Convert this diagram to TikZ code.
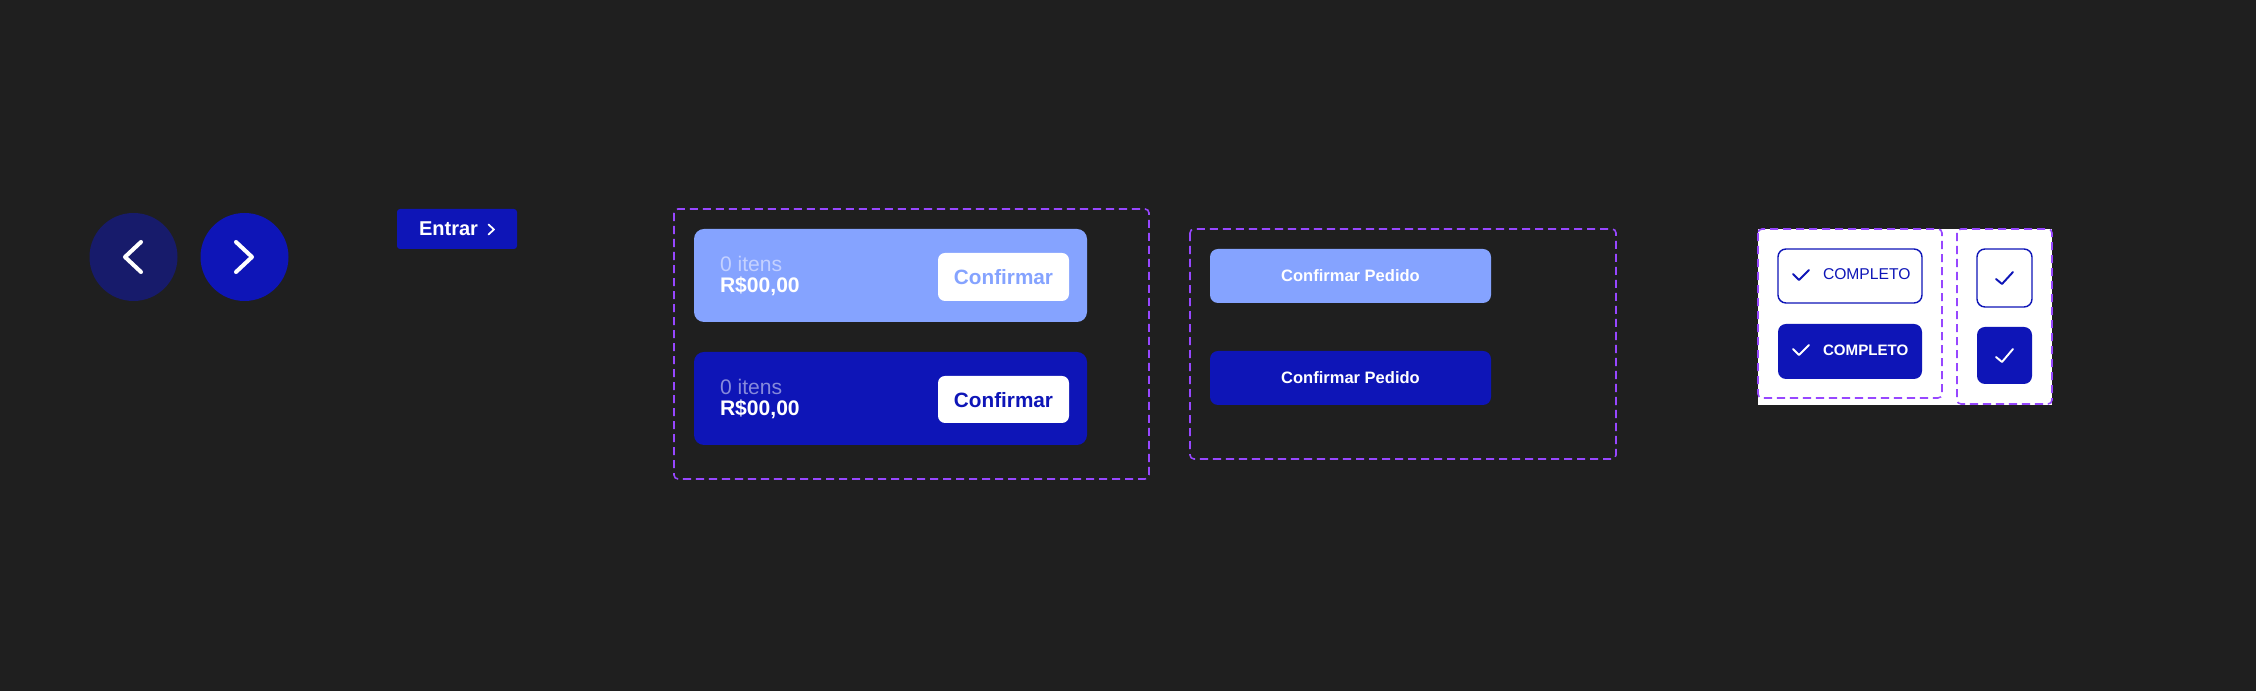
\documentclass[tikz,border=0pt]{standalone}
\usepackage{fontspec}
\setmainfont{Liberation Sans}
\usepackage{tikz}
\usetikzlibrary{calc}
\usepackage{color}
\definecolor{charcoal}{RGB}{31, 31, 31}
\definecolor{midnight}{RGB}{23, 27, 107}
\definecolor{royal}{RGB}{14, 21, 183}
\definecolor{periwinkle}{RGB}{133, 163, 255}
\definecolor{amethyst}{RGB}{151, 71, 255}
\definecolor{haze}{RGB}{196, 209, 255}
\definecolor{lilac}{RGB}{134, 138, 219}
\newcommand{\pxfont}[1]{\fontsize{#1}{#1}\selectfont}
\tikzset{
    dashframe/.style = {draw=amethyst, line width=0.45pt, dash pattern=on 2.3pt off 1.4pt, rounded corners=0.04cm},
    chevron/.style   = {line cap=round, line join=round},
    tick/.style      = {line width=0.55pt, line cap=round, line join=round},
    txt/.style       = {inner sep=0pt, outer sep=0pt},
}

\begin{document}
\begin{tikzpicture}
            \fill[charcoal]                                               ( 0.00, 0.00) rectangle (22.56,-6.91);
            % round arrows
            \fill[midnight]                                               ( 1.335,-2.57) circle    (0.44);
            \fill[royal]                                                  ( 2.445,-2.57) circle    (0.44);
            \draw[white, chevron, line width=1.15pt]                      ( 1.41,-2.42) -- ( 1.25,-2.57) -- ( 1.41,-2.72);
            \draw[white, chevron, line width=1.15pt]                      ( 2.36,-2.42) -- ( 2.52,-2.57) -- ( 2.36,-2.72);
            % entrar
            \fill[royal, rounded corners=0.03cm]                          ( 3.97,-2.09) rectangle ( 5.17,-2.49);
            \node[txt, white, anchor=base west, font=\bfseries\pxfont{5.7}] (entrar) at ( 4.19,-2.36) {Entrar};
            \draw[white, chevron, line width=0.5pt]                       ( 4.885,-2.245) -- ( 4.94,-2.295) -- ( 4.885,-2.345);
            % cart bars
            \draw[dashframe]                                              ( 6.74,-2.09) rectangle (11.49,-4.79);
            \fill[periwinkle, rounded corners=0.10cm]                     ( 6.94,-2.29) rectangle (10.87,-3.22);
            \fill[royal,      rounded corners=0.10cm]                     ( 6.94,-3.52) rectangle (10.87,-4.45);
            \fill[white,      rounded corners=0.07cm]                     ( 9.38,-2.53) rectangle (10.69,-3.01);
            \fill[white,      rounded corners=0.07cm]                     ( 9.38,-3.76) rectangle (10.69,-4.23);
            \node[txt, haze,  anchor=base west, font=\pxfont{6.0}]                 (itensA)  at ( 7.20,-2.72) {0 itens};
            \node[txt, white, anchor=base west, font=\bfseries\pxfont{6.0}]        (totalA)  at ( 7.20,-2.93) {R\$00,00};
            \node[txt, periwinkle, anchor=base, font=\bfseries\pxfont{5.9}]        (confA)   at (10.035,-2.85) {Confirmar};
            \node[txt, lilac, anchor=base west, font=\pxfont{6.0}]                 (itensB)  at ( 7.20,-3.95) {0 itens};
            \node[txt, white, anchor=base west, font=\bfseries\pxfont{6.0}]        (totalB)  at ( 7.20,-4.16) {R\$00,00};
            \node[txt, royal, anchor=base, font=\bfseries\pxfont{5.9}]             (confB)   at (10.035,-4.08) {Confirmar};
            % order buttons
            \draw[dashframe]                                              (11.90,-2.29) rectangle (16.16,-4.59);
            \fill[periwinkle, rounded corners=0.08cm]                     (12.10,-2.49) rectangle (14.91,-3.03);
            \fill[royal,      rounded corners=0.08cm]                     (12.10,-3.51) rectangle (14.91,-4.05);
            \node[txt, white, anchor=base, font=\bfseries\pxfont{4.7}]             (pedidoA) at (13.505,-2.82) {Confirmar Pedido};
            \node[txt, white, anchor=base, font=\bfseries\pxfont{4.7}]             (pedidoB) at (13.505,-3.84) {Confirmar Pedido};
            % checks
            \fill[white]                                                  (17.58,-2.29) rectangle (20.52,-4.05);
            \draw[dashframe]                                              (17.58,-2.29) rectangle (19.42,-3.98);
            \draw[dashframe]                                              (19.57,-2.29) rectangle (20.52,-4.04);
            \draw[royal, line width=0.4pt, rounded corners=0.08cm]        (17.78,-2.49) rectangle (19.22,-3.03);
            \fill[royal, rounded corners=0.08cm]                          (17.78,-3.24) rectangle (19.22,-3.79);
            \draw[royal, tick]                                            (17.93,-2.74) -- (17.99,-2.80) -- (18.09,-2.70);
            \draw[white, tick]                                            (17.93,-3.49) -- (17.99,-3.55) -- (18.09,-3.45);
            \node[txt, royal, anchor=base west, font=\pxfont{4.45}]                (compA)   at (18.23,-2.80) {COMPLETO};
            \node[txt, white, anchor=base west, font=\bfseries\pxfont{4.3}]        (compB)   at (18.23,-3.56) {COMPLETO};
            \draw[royal, line width=0.4pt, rounded corners=0.08cm]        (19.77,-2.49) rectangle (20.32,-3.07);
            \fill[royal, rounded corners=0.08cm]                          (19.77,-3.27) rectangle (20.32,-3.84);
            \draw[royal, tick]                                            (19.96,-2.79) -- (20.02,-2.84) -- (20.13,-2.72);
            \draw[white, tick]                                            (19.96,-3.57) -- (20.02,-3.62) -- (20.13,-3.49);
\end{tikzpicture}
\end{document}
